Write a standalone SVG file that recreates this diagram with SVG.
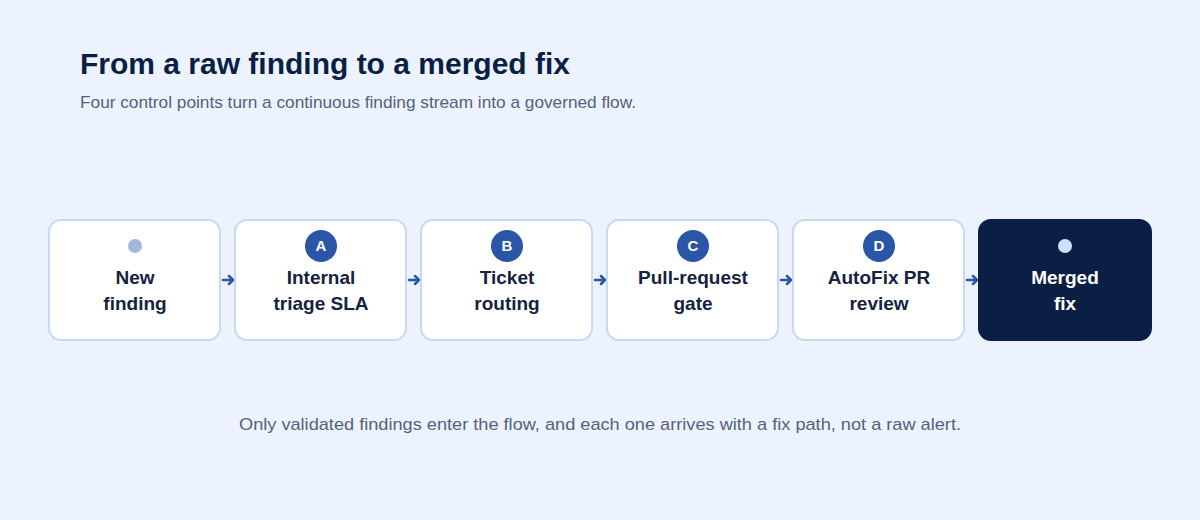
<svg xmlns="http://www.w3.org/2000/svg" width="1200" height="520" viewBox="0 0 1200 520">
<defs>
<style>
.bg{fill:#EDF3FE}
.node{fill:#FFFFFF;stroke:#C8D8F1;stroke-width:2}
.dark{fill:#0B1F44}
.title{font-family:"Liberation Sans",Arial,sans-serif;font-weight:700;font-size:30px;fill:#0B1F44}
.sub{font-family:"Liberation Sans",Arial,sans-serif;font-size:17px;fill:#52627E}
.lbl{font-family:"Liberation Sans",Arial,sans-serif;font-weight:700;font-size:19px;fill:#14233F;text-anchor:middle}
.lblw{font-family:"Liberation Sans",Arial,sans-serif;font-weight:700;font-size:19px;fill:#FFFFFF;text-anchor:middle}
.badge{fill:#2A56A8}
.btxt{font-family:"Liberation Sans",Arial,sans-serif;font-weight:700;font-size:15px;fill:#FFFFFF;text-anchor:middle}
.conn{stroke:#2A56A8;stroke-width:2.5;fill:none;stroke-linecap:round;stroke-linejoin:round}
</style>
</defs>
<rect class="bg" x="0" y="0" width="1200" height="520"/>
<text class="title" x="80" y="74" textLength="490" lengthAdjust="spacingAndGlyphs">From a raw finding to a merged fix</text>
<text class="sub" x="80" y="108" textLength="556" lengthAdjust="spacingAndGlyphs">Four control points turn a continuous finding stream into a governed flow.</text>

<g id="connectors">
<path class="conn" d="M223 280 H233 M229 276 L233 280 L229 284"/>
<path class="conn" d="M409 280 H419 M415 276 L419 280 L415 284"/>
<path class="conn" d="M595 280 H605 M601 276 L605 280 L601 284"/>
<path class="conn" d="M781 280 H791 M787 276 L791 280 L787 284"/>
<path class="conn" d="M967 280 H977 M973 276 L977 280 L973 284"/>
</g>

<g id="node-new">
<rect class="node" x="49" y="220" width="171" height="120" rx="12"/>
<circle cx="135" cy="246" r="7" fill="#A3B6DB"/>
<text class="lbl" x="135" y="284">New</text>
<text class="lbl" x="135" y="310">finding</text>
</g>
<g id="node-a">
<rect class="node" x="235" y="220" width="171" height="120" rx="12"/>
<circle class="badge" cx="321" cy="246" r="16"/>
<text class="btxt" x="321" y="251">A</text>
<text class="lbl" x="321" y="284">Internal</text>
<text class="lbl" x="321" y="310">triage SLA</text>
</g>
<g id="node-b">
<rect class="node" x="421" y="220" width="171" height="120" rx="12"/>
<circle class="badge" cx="507" cy="246" r="16"/>
<text class="btxt" x="507" y="251">B</text>
<text class="lbl" x="507" y="284">Ticket</text>
<text class="lbl" x="507" y="310">routing</text>
</g>
<g id="node-c">
<rect class="node" x="607" y="220" width="171" height="120" rx="12"/>
<circle class="badge" cx="693" cy="246" r="16"/>
<text class="btxt" x="693" y="251">C</text>
<text class="lbl" x="693" y="284">Pull-request</text>
<text class="lbl" x="693" y="310">gate</text>
</g>
<g id="node-d">
<rect class="node" x="793" y="220" width="171" height="120" rx="12"/>
<circle class="badge" cx="879" cy="246" r="16"/>
<text class="btxt" x="879" y="251">D</text>
<text class="lbl" x="879" y="284">AutoFix PR</text>
<text class="lbl" x="879" y="310">review</text>
</g>
<g id="node-merged">
<rect class="dark" x="978" y="219" width="174" height="122" rx="13"/>
<circle cx="1065" cy="246" r="7" fill="#CFE0FF"/>
<text class="lblw" x="1065" y="284">Merged</text>
<text class="lblw" x="1065" y="310">fix</text>
</g>

<text class="sub" x="600" y="430" text-anchor="middle" textLength="722" lengthAdjust="spacingAndGlyphs">Only validated findings enter the flow, and each one arrives with a fix path, not a raw alert.</text>
</svg>
